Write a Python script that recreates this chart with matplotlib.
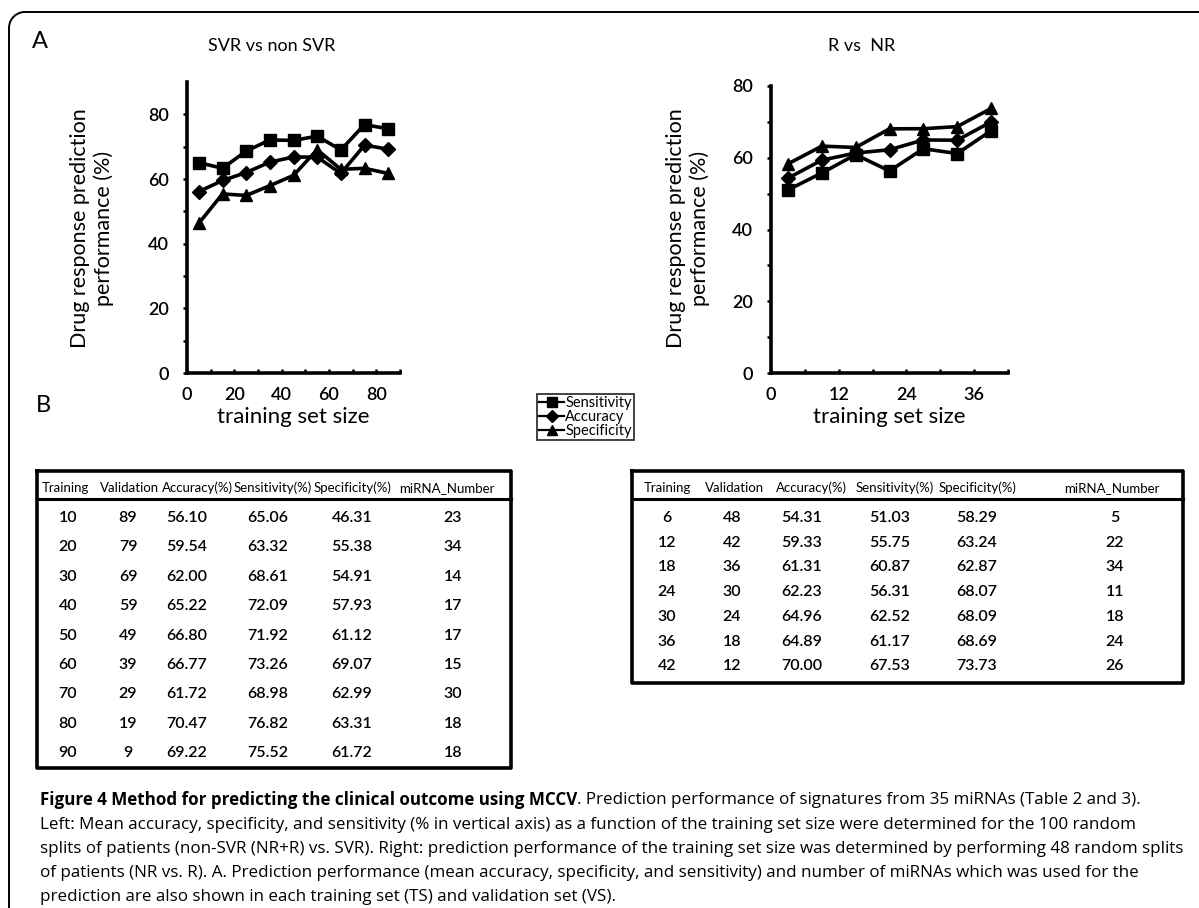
import matplotlib
matplotlib.use("Agg")
import matplotlib.pyplot as plt
from matplotlib.lines import Line2D
import numpy as np

#---------------------------------------#
# DATA                                  #
#---------------------------------------#
# left: SVR vs non SVR
svr_training = [10, 20, 30, 40, 50, 60, 70, 80, 90]
svr_validation = [89, 79, 69, 59, 49, 39, 29, 19, 9]
svr_accuracy = [56.10, 59.54, 62.00, 65.22, 66.80, 66.77, 61.72, 70.47, 69.22]
svr_sensitivity = [65.06, 63.32, 68.61, 72.09, 71.92, 73.26, 68.98, 76.82, 75.52]
svr_specificity = [46.31, 55.38, 54.91, 57.93, 61.12, 69.07, 62.99, 63.31, 61.72]
svr_mirna = [23, 34, 14, 17, 17, 15, 30, 18, 18]

# right: R vs NR
r_training = [6, 12, 18, 24, 30, 36, 42]
r_validation = [48, 42, 36, 30, 24, 18, 12]
r_accuracy = [54.31, 59.33, 61.31, 62.23, 64.96, 64.89, 70.00]
r_sensitivity = [51.03, 55.75, 60.87, 56.31, 62.52, 61.17, 67.53]
r_specificity = [58.29, 63.24, 62.87, 68.07, 68.09, 68.69, 73.73]
r_mirna = [5, 22, 34, 11, 18, 24, 26]

table_header = ["Training", "Validation", "Accuracy(%)", "Sensitivity(%)",
                "Specificity(%)", "miRNA_Number"]
series_names = ["Sensitivity", "Accuracy", "Specificity"]
series_markers = ["s", "D", "^"]

caption_bold = "Figure 4 Method for predicting the clinical outcome using MCCV"
caption_lines = [
    ". Prediction performance of signatures from 35 miRNAs (Table 2 and 3).",
    "Left: Mean accuracy, specificity, and sensitivity (% in vertical axis) as a function of the training set size were determined for the 100 random",
    "splits of patients (non-SVR (NR+R) vs. SVR). Right: prediction performance of the training set size was determined by performing 48 random splits",
    "of patients (NR vs. R). A. Prediction performance (mean accuracy, specificity, and sensitivity) and number of miRNAs which was used for the",
    "prediction are also shown in each training set (TS) and validation set (VS).",
]
#---------------------------------------#

W, H = 1199, 908
plt.rcParams['font.family'] = ['Lato', 'DejaVu Sans']

fig = plt.figure(figsize=(W / 100, H / 100), dpi=100)

# overlay axes in pixel coords for borders, tables and text
ov = fig.add_axes([0, 0, 1, 1])
ov.set_xlim(0, W)
ov.set_ylim(H, 0)
ov.axis('off')


def px_rect(left, top, right, bottom):
    return [left / W, 1 - bottom / H, (right - left) / W, (bottom - top) / H]


# outer border (open box with rounded corner)
t = np.linspace(np.pi, 1.5 * np.pi, 20)
r = 16
cx, cy = 9 + r, 12 + r
bx = np.concatenate([[9], cx + r * np.cos(t), [W]])
by = np.concatenate([[H], cy + r * np.sin(t), [12]])
ov.plot(bx, by, color='black', lw=1.4)

ov.text(40, 42, "A", fontsize=17, ha='center', va='center')
ov.text(43, 405, "B", fontsize=17, ha='center', va='center')


def draw_chart(rect, x_train, sens, acc, spec, xmax, ymax, xmajor, title,
               title_x, ylabel_x):
    ax = fig.add_axes(rect)
    step = x_train[1] - x_train[0]
    xs = np.array(x_train) - step / 2
    for vals, mk in zip([sens, acc, spec], series_markers):
        ax.plot(xs, vals, color='black', lw=2.6, marker=mk,
                markersize=9 if mk != 'D' else 7.5)
    ax.set_xlim(0, xmax)
    ax.set_ylim(0, ymax)
    ax.set_xticks(np.arange(0, xmax + 0.1, xmajor))
    ax.set_xticks(np.arange(0, xmax + 0.1, xmajor / 2), minor=True)
    ax.set_yticks(np.arange(0, 81, 20))
    ax.set_yticks(np.arange(0, 81, 10), minor=True)
    for s in ['top', 'right']:
        ax.spines[s].set_visible(False)
    for s in ['left', 'bottom']:
        ax.spines[s].set_linewidth(2.6)
    ax.tick_params(axis='both', which='both', length=3, width=1.8,
                   labelsize=13, pad=10)
    ax.tick_params(axis='x', which='both', direction='in')
    for lab in ax.get_xticklabels() + ax.get_yticklabels():
        lab.set_fontweight('semibold')
    ax.set_facecolor('none')
    ax.set_xlabel("training set size", fontsize=16, labelpad=3)
    ov.text(title_x, 46, title, fontsize=13, ha='center', va='center')
    ov.text(ylabel_x, 228, "Drug response prediction\nperformance (%)",
            fontsize=15.5, rotation=90, ha='center', va='center',
            multialignment='center', linespacing=1.15)
    return ax


draw_chart(px_rect(187, 82, 400, 373), svr_training, svr_sensitivity,
           svr_accuracy, svr_specificity, 90, 90, 20, "SVR vs non SVR",
           272, 92)
draw_chart(px_rect(771, 86, 1008, 373), r_training, r_sensitivity,
           r_accuracy, r_specificity, 42, 80, 12, "R vs  NR", 862, 688)

handles = [Line2D([], [], color='black', lw=1.6, marker=m,
                  markersize=7.5 if m != 'D' else 6.5) for m in series_markers]
leg = fig.legend(handles, series_names, loc='upper left',
                 bbox_to_anchor=(537 / W, 1 - 394 / H), frameon=True,
                 fancybox=False, edgecolor='black', fontsize=10.5,
                 borderpad=0.15, labelspacing=0.0, handlelength=1.7,
                 handletextpad=0.1, borderaxespad=0)
leg.get_frame().set_linewidth(1.3)


def draw_table(left, right, top, bottom, header_y, line_y, row_y0, row_dy,
               header_x, col_x, columns):
    ov.plot([left, right, right, left, left], [top, top, bottom, bottom, top],
            color='black', lw=2.6)
    ov.plot([left, right], [line_y, line_y], color='black', lw=2.2)
    for hx, h in zip(header_x, table_header):
        ov.text(hx, header_y, h, fontsize=9.5, ha='center', va='center')
    for i in range(len(columns[0])):
        y = row_y0 + i * row_dy
        for cxp, col in zip(col_x, columns):
            v = col[i]
            s = f"{v:.2f}" if isinstance(v, float) else str(v)
            ov.text(cxp, y, s, fontsize=11.5, ha='center', va='center',
                    weight='semibold')


draw_table(37, 511, 471, 768, 488, 499, 518, 29.4,
           [65, 130, 197, 273, 352, 447], [68, 128, 187, 268, 352, 453],
           [svr_training, svr_validation, svr_accuracy, svr_sensitivity,
            svr_specificity, svr_mirna])
draw_table(632, 1183, 471, 683, 488, 499, 518, 24.7,
           [667, 735, 811, 895, 977, 1112], [667, 732, 802, 890, 977, 1115],
           [r_training, r_validation, r_accuracy, r_sensitivity,
            r_specificity, r_mirna])

# caption, sized so that the widest line fits the frame
renderer = fig.canvas.get_renderer()
cap_font = ['Open Sans', 'DejaVu Sans']
cap_size = 12.0
probe = ov.text(40, 0, caption_lines[2], fontsize=cap_size, family=cap_font)
for _ in range(4):
    probe.set_fontsize(cap_size)
    wpx = probe.get_window_extent(renderer).width
    cap_size *= 1145 / wpx
probe.remove()
line_y = [800, 825, 849, 873, 897]
tb = ov.text(40, line_y[0], caption_bold, fontsize=cap_size, family=cap_font,
             weight='bold', va='center')
bw = tb.get_window_extent(renderer).width
ov.text(40 + bw, line_y[0], caption_lines[0], fontsize=cap_size,
        family=cap_font, va='center')
for y, line in zip(line_y[1:], caption_lines[1:]):
    ov.text(40, y, line, fontsize=cap_size, family=cap_font, va='center')

fig.savefig("out.png", dpi=100)
